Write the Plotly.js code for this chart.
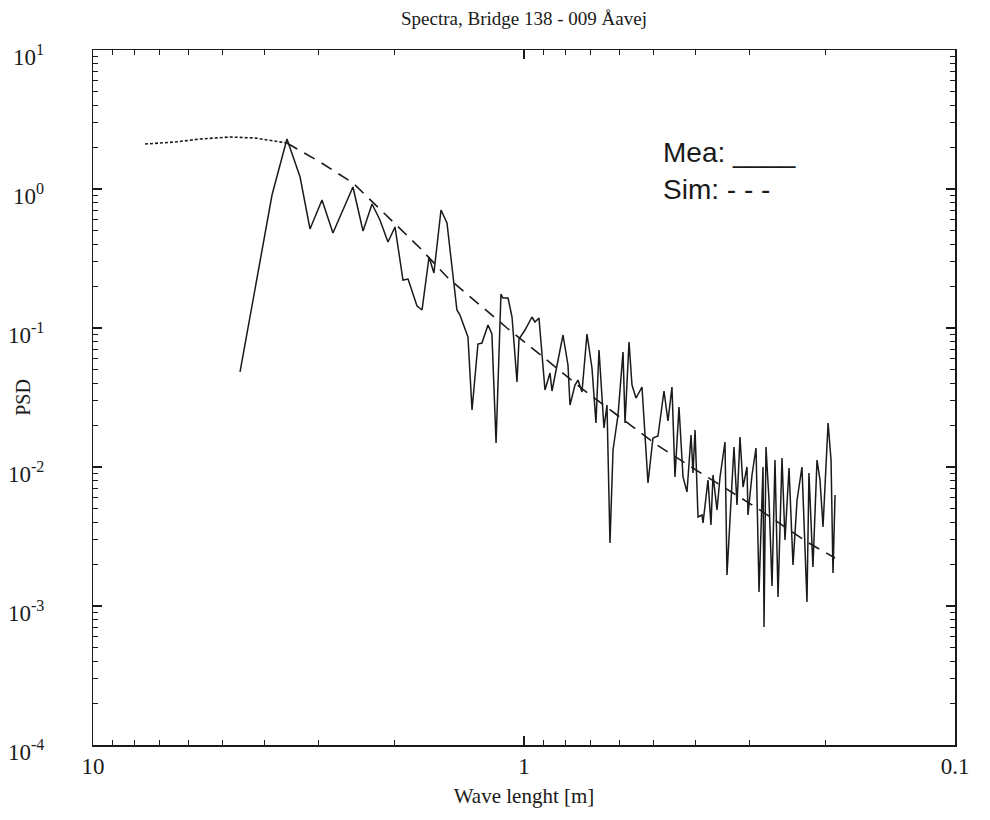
<!DOCTYPE html>
<html>
<head>
<meta charset="utf-8">
<script src="https://cdn.plot.ly/plotly-3.0.1.min.js"></script>
<style>html,body{margin:0;padding:0;background:#fff}#chart{width:990px;height:820px}</style>
</head>
<body>
<div id="chart"></div>
<script>
// Measured spectrum (wave length [m], PSD)
var meaX = [4.559,3.843,3.548,3.308,3.137,2.942,2.775,2.494,2.363,2.252,2.159,2.068,1.992,1.909,1.858,1.771,1.724,1.661,1.618,1.558,1.509,1.431,1.408,1.349,1.320,1.279,1.252,1.212,1.187,1.161,1.131,1.119,1.089,1.066,1.038,1.027,0.9947,0.9582,0.9430,0.9231,0.8939,0.8703,0.8610,0.8120,0.7906,0.7822,0.7616,0.7494,0.7336,0.7143,0.6955,0.6808,0.6699,0.6523,0.6419,0.6317,0.6215,0.6051,0.5892,0.5829,0.5706,0.5616,0.5497,0.5324,0.5156,0.5021,0.4888,0.4734,0.4634,0.4536,0.4464,0.4369,0.4276,0.4186,0.4097,0.4054,0.4010,0.3947,0.3864,0.3843,0.3742,0.3683,0.3643,0.3566,0.3509,0.3417,0.3381,0.3309,0.3257,0.3205,0.3154,0.3103,0.3038,0.3022,0.2958,0.2895,0.2849,0.2789,0.2774,0.2745,0.2701,0.2658,0.2616,0.2574,0.2520,0.2480,0.2427,0.2376,0.2325,0.2265,0.2205,0.2182,0.2136,0.2090,0.2057,0.2024,0.1970,0.1939,0.1919,0.1898];
var meaY = [0.04826,0.9054,2.289,1.220,0.5158,0.8333,0.4826,1.034,0.4988,0.7797,0.5984,0.4156,0.5331,0.2215,0.2252,0.1440,0.1348,0.3242,0.2487,0.7063,0.5692,0.1348,0.1240,0.08614,0.02571,0.07672,0.07800,0.1051,0.09054,0.01488,0.1757,0.1643,0.1643,0.1200,0.04089,0.08333,0.09674,0.1200,0.1105,0.1180,0.03581,0.04746,0.03522,0.08905,0.05418,0.02793,0.03890,0.04224,0.03464,0.09054,0.05157,0.02073,0.06946,0.01908,0.02793,0.002840,0.01326,0.02366,0.06720,0.02073,0.07929,0.03890,0.03135,0.03763,0.007672,0.01617,0.01671,0.03522,0.02142,0.03763,0.008475,0.02702,0.008475,0.006609,0.01699,0.009054,0.01845,0.004369,0.004516,0.003955,0.008061,0.003826,0.008757,0.004906,0.008475,0.01513,0.001671,0.006085,0.01393,0.005329,0.01643,0.007180,0.01,0.004516,0.008757,0.01370,0.001261,0.01,0.000706,0.01393,0.005790,0.001393,0.01123,0.001161,0.01161,0.002984,0.009835,0.001972,0.005790,0.01,0.001069,0.009054,0.001908,0.01123,0.008061,0.003702,0.02073,0.01123,0.001727,0.006288];
// Simulated spectrum
var simX = [7.575,6.45,5.645,4.81,4.21,3.78,3.55,2.974,2.494,2.079,1.743,1.501,1.285,1.095,0.903,0.7416,0.6083,0.4914,0.4055,0.3566,0.2880,0.2205,0.1898];
var simY = [2.107,2.178,2.289,2.366,2.328,2.214,2.142,1.564,1.105,0.639,0.3763,0.2289,0.1513,0.1,0.0619,0.0376,0.02366,0.01439,0.00983,0.00767,0.00507,0.00289,0.002215];
var xTickVals = [10, 1, 0.1];
var xTickText = ['10', '1', '0.1'];
var yTickVals = [1e-4, 1e-3, 1e-2, 1e-1, 1, 10];
var yTickText = ['10<sup>-4</sup>', '10<sup>-3</sup>', '10<sup>-2</sup>', '10<sup>-1</sup>', '10<sup>0</sup>', '10<sup>1</sup>'];

function minorVals(lo, hi) {
  var v = [];
  for (var e = lo; e < hi; e++) for (var m = 2; m <= 9; m++) v.push(m * Math.pow(10, e));
  return v;
}

var ink = '#1a1a1a';
var serif = 'Liberation Serif, Times New Roman, serif';
var traces = [
  {x: simX.slice(0, 7), y: simY.slice(0, 7), mode: 'lines', line: {color: ink, width: 1.6, dash: '3px,2px'}, hoverinfo: 'skip'},
  {x: simX.slice(6), y: simY.slice(6), mode: 'lines', line: {color: ink, width: 1.6, dash: '12px,8px'}, hoverinfo: 'skip'},
  {x: meaX, y: meaY, mode: 'lines', line: {color: ink, width: 1.5}}
];

var axisCommon = {
  type: 'log', showline: true, linecolor: ink, linewidth: 1.5, mirror: 'ticks',
  ticks: 'inside', ticklen: 9, tickwidth: 1.2, tickcolor: ink, showgrid: false, zeroline: false,
  tickfont: {family: serif, size: 23, color: ink}
};

// y tick labels as annotations placed further left of the axis (as in the reference)
var annotations = yTickVals.map(function (v, i) {
  return {xref: 'paper', yref: 'y', x: -0.055, y: Math.log10(v), yshift: -5, xanchor: 'right', yanchor: 'middle',
          showarrow: false, text: yTickText[i], font: {family: serif, size: 23, color: ink}};
});
annotations.push(
  {xref: 'paper', yref: 'paper', x: -0.082, y: 0.5, xanchor: 'center', yanchor: 'middle', textangle: -90,
   showarrow: false, text: 'PSD', font: {family: serif, size: 20, color: ink}},
  {xref: 'paper', yref: 'paper', x: 0.659, y: 0.852, xanchor: 'left', yanchor: 'middle', showarrow: false,
   text: 'Mea: ____', font: {family: 'Liberation Sans, Arial, sans-serif', size: 28, color: ink}},
  {xref: 'paper', yref: 'paper', x: 0.659, y: 0.799, xanchor: 'left', yanchor: 'middle', showarrow: false,
   text: 'Sim: - - -', font: {family: 'Liberation Sans, Arial, sans-serif', size: 28, color: ink}}
);

var layout = {
  width: 990, height: 820,
  margin: {l: 93, r: 35, t: 50, b: 75},
  paper_bgcolor: '#fff', plot_bgcolor: '#fff',
  showlegend: false,
  title: {text: 'Spectra, Bridge 138 - 009 Åavej', x: 0.5, xref: 'paper', y: 0.978, yanchor: 'middle',
          font: {family: serif, size: 19, color: ink}},
  xaxis: Object.assign({}, axisCommon, {
    range: [1, -1], tickmode: 'array', tickvals: xTickVals, ticktext: xTickText,
    minor: {tickmode: 'array', tickvals: minorVals(-1, 1), ticks: 'inside', ticklen: 5, tickcolor: ink, tickwidth: 1},
    title: {text: 'Wave lenght [m]', standoff: 10, font: {family: serif, size: 21, color: ink}}
  }),
  yaxis: Object.assign({}, axisCommon, {
    range: [-4, 1], tickmode: 'array', tickvals: yTickVals, showticklabels: false,
    minor: {tickmode: 'array', tickvals: minorVals(-4, 1), ticks: 'inside', ticklen: 5, tickcolor: ink, tickwidth: 1}
  }),
  annotations: annotations
};

Plotly.newPlot('chart', traces, layout, {staticPlot: true});
</script>
</body>
</html>
